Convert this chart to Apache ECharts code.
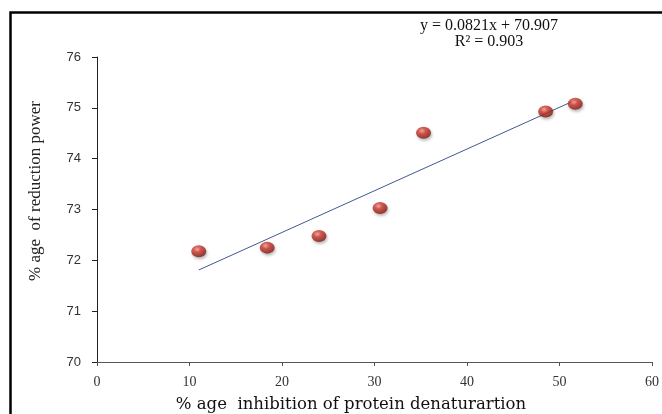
<!DOCTYPE html>
<html>
<head>
<meta charset="utf-8">
<script src="https://cdn.jsdelivr.net/npm/echarts@6/dist/echarts.min.js"></script>
<style>
  html, body { margin: 0; padding: 0; background: #fff; }
  #chart { width: 662px; height: 414px; }
</style>
</head>
<body>
<div id="chart"></div>
<script>
// values
const inhibition = [11.0, 18.4, 24.0, 30.6, 35.3, 48.5, 51.7]
const reduction = [72.18, 72.25, 72.48, 73.03, 74.51, 74.93, 75.08]
const trendX = [11.0, 51.7]
const trendY = [71.81, 75.15]
const xTicks = [0, 10, 20, 30, 40, 50, 60]
const yTicks = [70, 71, 72, 73, 74, 75, 76]

let chart = echarts.init(document.getElementById('chart'))

let sphere = {
    type: 'radial', x: 0.4, y: 0.35, r: 0.7,
    colorStops: [
        {offset: 0, color: '#f3a49a'},
        {offset: 0.35, color: '#d23a2e'},
        {offset: 1, color: '#7a1410'}
    ]
}

chart.setOption({
    animation: false,
    backgroundColor: '#fff',
    grid: {left: 97, right: 5, top: 57, bottom: 52},
    xAxis: {
        type: 'value', min: xTicks[0], max: xTicks[xTicks.length - 1], interval: 10,
        axisLine: {lineStyle: {color: '#555', width: 1}},
        axisTick: {show: true, length: 4, lineStyle: {color: '#555'}},
        axisLabel: {color: '#333', fontFamily: 'Liberation Serif', fontSize: 14, margin: 13},
        splitLine: {show: false}
    },
    yAxis: {
        type: 'value', min: yTicks[0], max: yTicks[yTicks.length - 1], interval: 1,
        axisLine: {show: true, lineStyle: {color: '#222', width: 1}},
        axisTick: {show: true, length: 5, lineStyle: {color: '#222'}},
        axisLabel: {color: '#333', fontFamily: 'Liberation Sans', fontSize: 13, margin: 16},
        splitLine: {show: false}
    },
    series: [
        {
            type: 'line',
            data: trendX.map((x, i) => [x, trendY[i]]),
            showSymbol: false,
            lineStyle: {color: '#3f5a93', width: 1},
            z: 2
        },
        {
            type: 'scatter',
            data: inhibition.map((x, i) => [x, reduction[i]]),
            symbol: 'circle',
            symbolSize: [15, 12],
            itemStyle: {
                color: sphere,
                shadowColor: 'rgba(0,0,0,0.35)',
                shadowBlur: 3,
                shadowOffsetX: 1,
                shadowOffsetY: 2
            },
            z: 3
        }
    ],
    graphic: [
        {
            type: 'rect', z: 10,
            shape: {x: 10.5, y: 12.5, width: 700, height: 500},
            style: {fill: 'none', stroke: '#000', lineWidth: 2.5}
        },
        {
            type: 'text',
            style: {
                text: 'y = 0.0821x + 70.907', x: 489, y: 26,
                align: 'center', verticalAlign: 'middle',
                font: '16px "Liberation Serif"', fill: '#111'
            }
        },
        {
            type: 'text',
            style: {
                text: 'R² = 0.903', x: 489, y: 42,
                align: 'center', verticalAlign: 'middle',
                font: '16px "Liberation Serif"', fill: '#111'
            }
        },
        {
            type: 'text',
            x: 36, y: 191, rotation: Math.PI / 2,
            style: {
                text: '% age  of reduction power', x: 0, y: 0,
                align: 'center', verticalAlign: 'middle',
                font: '17px "Liberation Serif"', fill: '#222'
            }
        },
        {
            type: 'text',
            style: {
                text: '% age  inhibition of protein denaturartion', x: 351, y: 405,
                align: 'center', verticalAlign: 'middle',
                font: '500 16.5px "DejaVu Serif"', fill: '#111'
            }
        }
    ]
})
</script>
</body>
</html>
